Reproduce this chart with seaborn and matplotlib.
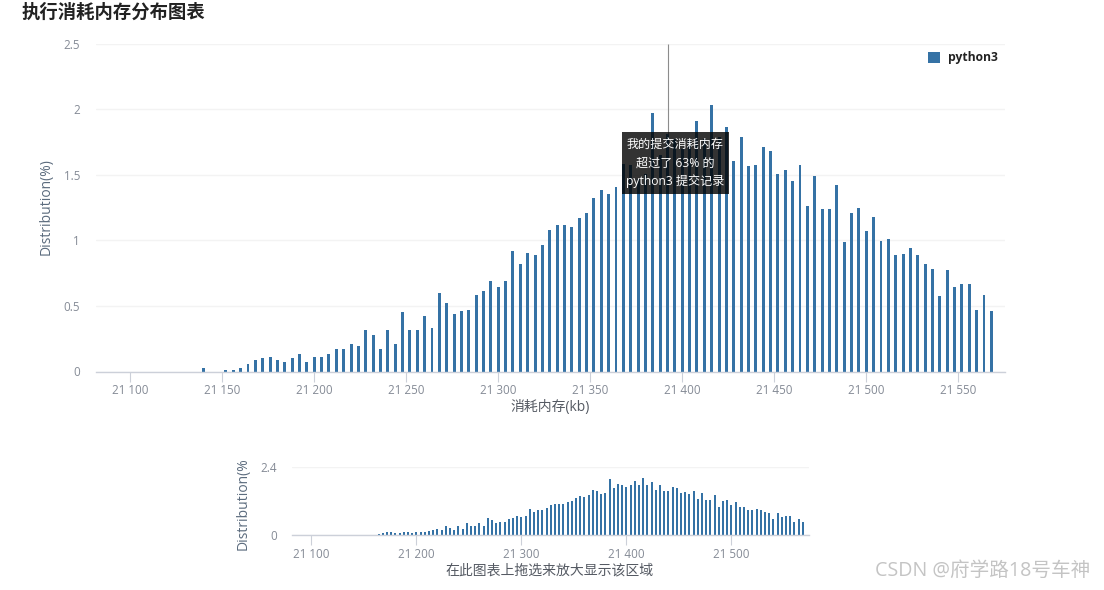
#!/usr/bin/env python3
import matplotlib
matplotlib.use('Agg')
import matplotlib.pyplot as plt
from matplotlib.patches import Rectangle
import seaborn as sns

sns.set_style('white')
plt.rcParams['font.family'] = ['Open Sans', 'Noto Sans CJK SC', 'DejaVu Sans']

W, H = 1104, 590

#DATA
memory_kb = [
    21140, 21144, 21148, 21152, 21156, 21160, 21164, 21168, 21172, 21176, 21180, 21184,
    21188, 21192, 21196, 21200, 21204, 21208, 21212, 21216, 21220, 21224, 21228, 21232,
    21236, 21240, 21244, 21248, 21252, 21256, 21260, 21264, 21268, 21272, 21276, 21280,
    21284, 21288, 21292, 21296, 21300, 21304, 21308, 21312, 21316, 21320, 21324, 21328,
    21332, 21336, 21340, 21344, 21348, 21352, 21356, 21360, 21364, 21368, 21372, 21376,
    21380, 21384, 21388, 21392, 21396, 21400, 21404, 21408, 21412, 21416, 21420, 21424,
    21428, 21432, 21436, 21440, 21444, 21448, 21452, 21456, 21460, 21464, 21468, 21472,
    21476, 21480, 21484, 21488, 21492, 21496, 21500, 21504, 21508, 21512, 21516, 21520,
    21524, 21528, 21532, 21536, 21540, 21544, 21548, 21552, 21556, 21560, 21564, 21568,
]
distribution = [
    0.023, 0, 0, 0.015, 0.015, 0.023, 0.06, 0.09, 0.10, 0.107, 0.09, 0.07,
    0.10, 0.13, 0.07, 0.107, 0.107, 0.13, 0.168, 0.175, 0.206, 0.198, 0.313, 0.275,
    0.175, 0.32, 0.206, 0.45, 0.313, 0.313, 0.427, 0.328, 0.595, 0.524, 0.44, 0.463,
    0.47, 0.585, 0.616, 0.692, 0.646, 0.692, 0.921, 0.822, 0.906, 0.89, 0.967, 1.081,
    1.12, 1.12, 1.104, 1.173, 1.211, 1.326, 1.387, 1.356, 1.41, 1.585, 1.578, 1.47,
    1.51, 1.975, 1.654, 1.814, 1.77, 1.70, 1.77, 1.913, 1.77, 2.036, 1.79, 1.868,
    1.608, 1.79, 1.57, 1.578, 1.715, 1.684, 1.509, 1.54, 1.455, 1.578, 1.265, 1.494,
    1.242, 1.242, 1.425, 0.99, 1.211, 1.249, 1.074, 1.181, 0.997, 1.013, 0.89, 0.898,
    0.944, 0.89, 0.822, 0.784, 0.578, 0.776, 0.646, 0.669, 0.669, 0.47, 0.585, 0.463,
]
main_xticks = [21100, 21150, 21200, 21250, 21300, 21350, 21400, 21450, 21500, 21550]
main_xlabels = ['21 100', '21 150', '21 200', '21 250', '21 300', '21 350', '21 400', '21 450', '21 500', '21 550']
main_yticks = [0, 0.5, 1, 1.5, 2, 2.5]
main_ylabels = ['0', '0.5', '1', '1.5', '2', '2.5']
mini_xticks = [21100, 21200, 21300, 21400, 21500]
mini_xlabels = ['21 100', '21 200', '21 300', '21 400', '21 500']
mini_yticks = [0, 2.4]
mini_ylabels = ['0', '2.4']
cursor_kb = 21392
cursor_value = 1.814

BAR = '#3572a5'
AXIS = '#ccd0d9'
GRID = '#f3f3f3'
TICK = '#858b96'
LABEL = '#555a63'


def px_axes(left, top, right, bottom):
    return fig.add_axes([left / W, 1 - bottom / H, (right - left) / W, (bottom - top) / H])


def style_axes(ax, xticks, xlabels, yticks, ylabels, ypad):
    ax.set_axisbelow(True)
    ax.grid(axis='y', color=GRID, linewidth=1)
    ax.grid(axis='x', visible=False)
    for side in ['top', 'right', 'left']:
        ax.spines[side].set_visible(False)
    ax.spines['bottom'].set_color(AXIS)
    ax.spines['bottom'].set_linewidth(1)
    ax.spines['bottom'].set_zorder(5)
    ax.set_xticks(xticks, xlabels)
    ax.set_yticks(yticks, ylabels)
    ax.tick_params(axis='x', length=7.2, width=0.8, color=AXIS, labelcolor=TICK, labelsize=8.4, pad=2, bottom=True)
    ax.tick_params(axis='y', length=0, labelcolor=TICK, labelsize=8.4, pad=ypad)
    ax.set_xlabel('')
    ax.set_ylabel('')


fig = plt.figure(figsize=(W / 100, H / 100), dpi=100, facecolor='white')

#MAIN CHART
ax = px_axes(96, 43.7, 1005, 371.5)
sns.barplot(x=memory_kb, y=distribution, native_scale=True, color=BAR, saturation=1,
            width=0.4, errorbar=None, label='python3', linewidth=0, ax=ax)
ax.set_xlim(21081.4, 21575.4)
ax.set_ylim(0, 2.5)
style_axes(ax, main_xticks, main_xlabels, main_yticks, main_ylabels, 11.5)
ax.vlines(cursor_kb, cursor_value, 2.5, color='#8c8c8c', linewidth=0.8, zorder=4)

ax.legend(loc='center left', bbox_to_anchor=(928 / W, 1 - 58 / H), bbox_transform=fig.transFigure,
          frameon=False, handlelength=1, handleheight=1, handletextpad=0.67, borderpad=0, borderaxespad=0,
          prop={'size': 8.7, 'weight': 'bold'}, labelcolor='#222222')

#OVERVIEW CHART
ax2 = px_axes(291.7, 467.3, 808.7, 535.3)
sns.barplot(x=memory_kb, y=distribution, native_scale=True, color=BAR, saturation=1,
            width=0.48, errorbar=None, linewidth=0, ax=ax2)
ax2.set_xlim(21081.3, 21573.7)
ax2.set_ylim(0, 2.4)
style_axes(ax2, mini_xticks, mini_xlabels, mini_yticks, mini_ylabels, 10.5)

#TEXTS
fig.text(22 / W, 1 - 13 / H, '执行消耗内存分布图表', fontsize=13.2, fontweight='bold', color='#222222',
         ha='left', va='center')
fig.text(550 / W, 1 - 407.5 / H, '消耗内存(kb)', fontsize=10, color=LABEL, ha='center', va='center')
fig.text(46 / W, 1 - 207 / H, 'Distribution(%)', fontsize=10, color='#5b6b7d', rotation=90, ha='center', va='center')
fig.text(243 / W, 1 - 504 / H, 'Distribution(%', fontsize=10, color='#5b6b7d', rotation=90, ha='center', va='center')
fig.text(550 / W, 1 - 571 / H, '在此图表上拖选来放大显示该区域', fontsize=10, color=LABEL, ha='center', va='center')

#TOOLTIP
fig.add_artist(Rectangle((622 / W, 1 - 194 / H), 107 / W, 62 / H, transform=fig.transFigure,
                         facecolor='black', alpha=0.8, edgecolor='none', zorder=6))
for line, y in zip(['我的提交消耗内存', '超过了 63% 的', 'python3 提交记录'], [144, 163, 181]):
    fig.text(675.5 / W, 1 - y / H, line, fontsize=8.7, color='white', ha='center', va='center', zorder=7)

#WATERMARK
fig.text(1090 / W, 1 - 571 / H, 'CSDN @府学路18号车神', fontsize=14.1, color='#c4c4c4', ha='right', va='center')

plt.savefig('out.png', dpi=100)
plt.close()
